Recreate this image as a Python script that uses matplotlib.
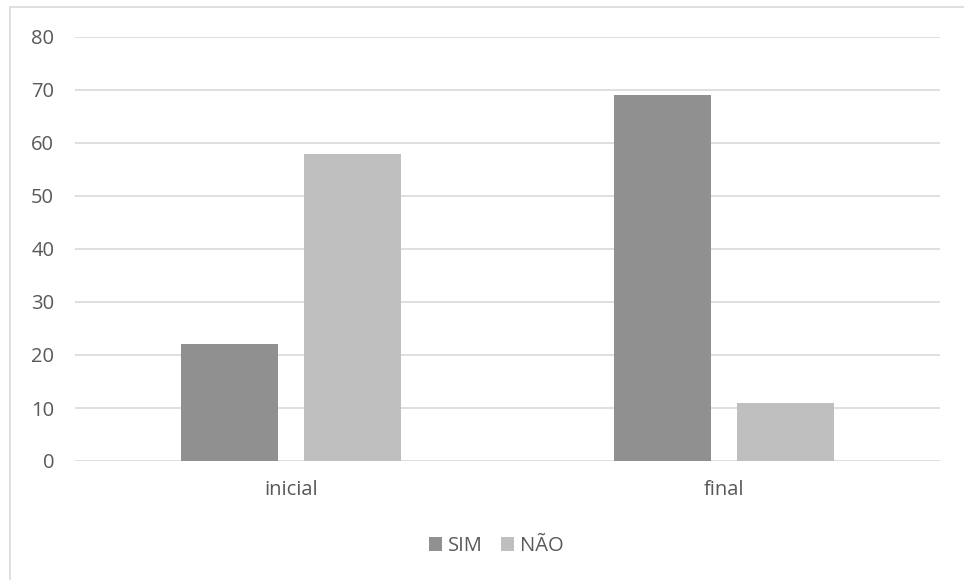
import matplotlib.pyplot as plt
from matplotlib.patches import Rectangle

plt.rcParams['font.family'] = ['Open Sans', 'DejaVu Sans']

categorias = ['inicial', 'final']
sim = [22, 69]
nao = [58, 11]

cor_sim = '#909090'
cor_nao = '#bfbfbf'
cor_texto = '#595959'
cor_grade = '#d9d9d9'

fig = plt.figure(figsize=(9.64, 5.80), dpi=100)
ax = fig.add_axes([75 / 964, 1 - 461 / 580, 865 / 964, 424 / 580])

x = range(len(categorias))
largura = 0.224
desloc = 0.142
ax.bar([i - desloc for i in x], sim, largura, color=cor_sim, label='SIM', zorder=3)
ax.bar([i + desloc for i in x], nao, largura, color=cor_nao, label='NÃO', zorder=3)

ax.set_xlim(-0.5, 1.5)
ax.set_ylim(0, 80)
ax.set_yticks(range(0, 81, 10))
ax.set_xticks(list(x))
ax.set_xticklabels(categorias)
ax.yaxis.grid(True, color=cor_grade, linewidth=1.2, zorder=0)
for s in ax.spines.values():
    s.set_visible(False)
ax.tick_params(axis='both', length=0, colors=cor_texto, labelsize=14.5)
ax.tick_params(axis='y', pad=15)
ax.tick_params(axis='x', pad=14)

leg = fig.legend(loc='center', bbox_to_anchor=(496 / 964, 1 - 546 / 580), ncol=2,
                 frameon=False, fontsize=14.5, handlelength=0.65, handleheight=0.65,
                 handletextpad=0.3, columnspacing=0.9)
for t in leg.get_texts():
    t.set_color(cor_texto)

# moldura do gráfico
fig.patches.append(Rectangle((10 / 964, -0.05), 1.0, 1 - 7 / 580 + 0.05,
                             transform=fig.transFigure, fill=False,
                             edgecolor=cor_grade, linewidth=1.2))

fig.savefig('out.png', dpi=100)
